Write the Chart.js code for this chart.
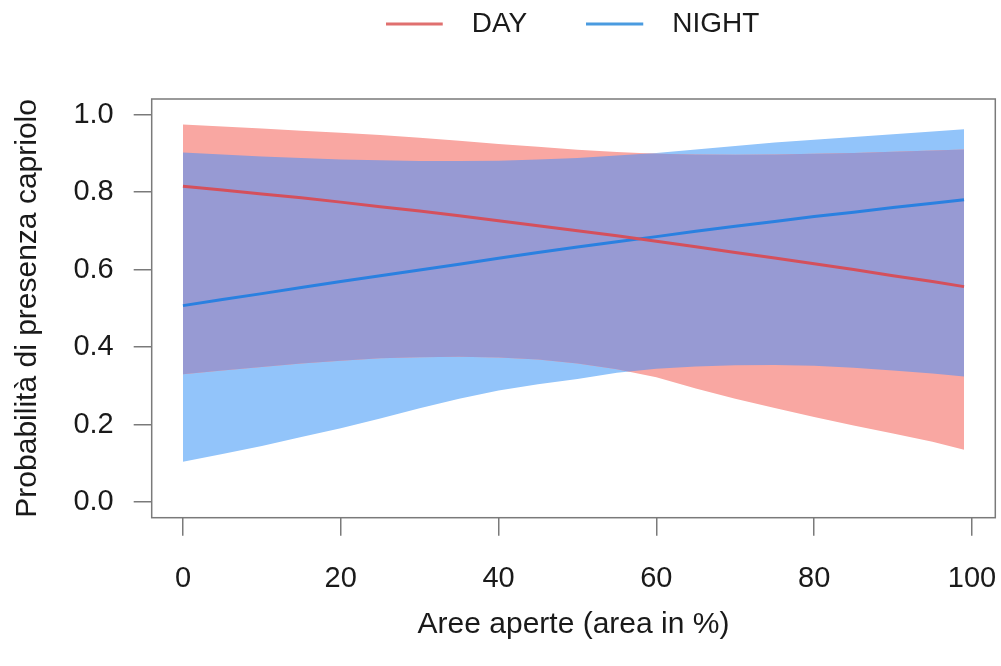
<!DOCTYPE html>
<html><head><meta charset="utf-8">
<script src="https://cdn.jsdelivr.net/npm/chart.js@4.4.1/dist/chart.umd.min.js"></script>
<style>html,body{margin:0;padding:0;background:#fff;}</style>
</head><body>
<canvas id="c" width="1001" height="666"></canvas>
<script>
// ---- data ----
const area = [0,5,10,15,20,25,30,35,40,45,50,55,60,65,70,75,80,85,90,95,99];
const dayFit    = [0.815,0.805,0.795,0.785,0.774,0.762,0.751,0.739,0.726,0.713,0.700,0.687,0.673,0.659,0.644,0.630,0.615,0.600,0.584,0.569,0.556];
const nightFit  = [0.507,0.523,0.538,0.554,0.569,0.584,0.599,0.614,0.629,0.644,0.658,0.672,0.685,0.699,0.712,0.724,0.737,0.748,0.760,0.771,0.780];
const dayUpper  = [0.974,0.969,0.964,0.958,0.953,0.947,0.940,0.932,0.924,0.917,0.909,0.903,0.899,0.897,0.896,0.897,0.899,0.901,0.904,0.907,0.910];
const dayLower  = [0.330,0.340,0.349,0.358,0.365,0.371,0.374,0.375,0.373,0.368,0.358,0.343,0.322,0.293,0.267,0.243,0.220,0.198,0.177,0.156,0.135];
const nightUpper= [0.902,0.897,0.892,0.888,0.884,0.882,0.880,0.880,0.881,0.884,0.888,0.894,0.901,0.910,0.919,0.928,0.935,0.942,0.949,0.956,0.962];
const nightLower= [0.104,0.124,0.145,0.168,0.191,0.216,0.242,0.267,0.288,0.304,0.318,0.334,0.344,0.350,0.353,0.354,0.352,0.347,0.340,0.332,0.324];
const seriesNames = ['DAY','NIGHT'];
const xTicks = [0,20,40,60,80,100];
const yTicks = [0,0.2,0.4,0.6,0.8,1.0];
const yTickLabels = ['0.0','0.2','0.4','0.6','0.8','1.0'];
const xTitle = 'Aree aperte (area in %)';
const yTitle = 'Probabilità di presenza capriolo';

// ---- styles ----
const FONT = "'Liberation Sans', Arial, Helvetica, sans-serif";
const TXT = '#1a1a1a';
const DAY_LINE = '#d4505c', NIGHT_LINE = '#2a80e0';
const DAY_BAND = '#f9a7a2', NIGHT_BAND = '#92c4fa', OVERLAP = '#979ad3';
const AXIS = '#7a7a7a';

const pts = ys => area.map((x,i)=>({x:x, y:ys[i]}));

function legendLine(color){
  const c = document.createElement('canvas');
  c.width = 72; c.height = 8;
  const g = c.getContext('2d');
  g.strokeStyle = color; g.lineWidth = 3;
  g.beginPath(); g.moveTo(0,4); g.lineTo(57,4); g.stroke();
  return c;
}

function bandPath(ctx, up, lo){
  ctx.beginPath();
  up.forEach((p,i)=> i ? ctx.lineTo(p.x,p.y) : ctx.moveTo(p.x,p.y));
  for (let i = lo.length-1; i >= 0; i--) ctx.lineTo(lo[i].x, lo[i].y);
  ctx.closePath();
}

const overlapPlugin = {
  id: 'overlap',
  beforeDatasetDraw(chart, args){
    if (args.index !== 1) return;
    const m = i => chart.getDatasetMeta(i).data;
    const ctx = chart.ctx, a = chart.chartArea;
    ctx.save();
    ctx.beginPath(); ctx.rect(a.left, a.top, a.right-a.left, a.bottom-a.top); ctx.clip();
    bandPath(ctx, m(2), m(3)); ctx.clip();
    bandPath(ctx, m(4), m(5));
    ctx.fillStyle = OVERLAP; ctx.fill();
    ctx.restore();
  }
};

const boxPlugin = {
  id: 'box',
  beforeInit(chart){
    const lg = chart.legend;
    if (lg) {
      const of = lg.fit.bind(lg);
      lg.fit = function(){ of(); this.height = 99; };
    }
  },
  afterLayout(chart){
    const lg = chart.legend;
    if (lg) { lg.left = 72; lg.right = 1001 + 72; lg.top = -49; }
  },
  afterDatasetsDraw(chart){
    const ctx = chart.ctx, a = chart.chartArea;
    ctx.save();
    ctx.strokeStyle = AXIS; ctx.lineWidth = 1.5;
    ctx.strokeRect(a.left, a.top, a.right-a.left, a.bottom-a.top);
    ctx.restore();
  }
};

new Chart(document.getElementById('c'), {
  type: 'line',
  data: {
    datasets: [
      { label: seriesNames[0], data: pts(dayFit), borderColor: DAY_LINE, borderWidth: 3, pointRadius: 0, pointHoverRadius: 0, pointStyle: legendLine('#e0706f'), fill: false, tension: 0 },
      { label: seriesNames[1], data: pts(nightFit), borderColor: NIGHT_LINE, borderWidth: 3, pointRadius: 0, pointHoverRadius: 0, pointStyle: legendLine('#4a9be0'), fill: false, tension: 0 },
      { label: 'dayUpper', data: pts(dayUpper), borderWidth: 0, pointRadius: 0, fill: false, tension: 0 },
      { label: 'dayLower', data: pts(dayLower), borderWidth: 0, pointRadius: 0, fill: '-1', backgroundColor: DAY_BAND, tension: 0 },
      { label: 'nightUpper', data: pts(nightUpper), borderWidth: 0, pointRadius: 0, fill: false, tension: 0 },
      { label: 'nightLower', data: pts(nightLower), borderWidth: 0, pointRadius: 0, fill: '-1', backgroundColor: NIGHT_BAND, tension: 0 }
    ]
  },
  options: {
    responsive: false,
    animation: false,
    devicePixelRatio: 1,
    layout: { padding: { left: 0, right: 5.7, top: 0, bottom: 0 } },
    plugins: {
      tooltip: { enabled: false },
      legend: {
        display: true, position: 'top', align: 'center',
        labels: {
          filter: item => item.datasetIndex < 2,
          usePointStyle: true, pointStyleWidth: 72, boxHeight: 8,
          padding: 59, color: TXT,
          font: { family: FONT, size: 28 }
        }
      }
    },
    scales: {
      x: {
        type: 'linear', min: -3.96, max: 102.96,
        afterBuildTicks: s => { s.ticks = xTicks.map(v => ({value: v})); },
        afterFit: s => { s.height = 148.3; s.paddingLeft = 0; s.paddingRight = 0; },
        ticks: { callback: (v, i) => String(xTicks[i]), color: TXT, font: { family: FONT, size: 29 }, padding: 26, maxRotation: 0, autoSkip: false },
        grid: { drawOnChartArea: false, drawTicks: true, tickLength: 18, color: AXIS, lineWidth: 1.5 },
        border: { display: false },
        title: { display: true, text: xTitle, color: TXT, font: { family: FONT, size: 30 }, padding: { top: 0, bottom: 23 } }
      },
      y: {
        type: 'linear', min: -0.04, max: 1.04,
        afterBuildTicks: s => { s.ticks = yTicks.map(v => ({value: v})); },
        afterFit: s => { s.width = 151.7; s.paddingTop = 0; s.paddingBottom = 0; },
        ticks: { callback: (v, i) => yTickLabels[i], color: TXT, font: { family: FONT, size: 29 }, padding: 20, autoSkip: false },
        grid: { drawOnChartArea: false, drawTicks: true, tickLength: 18, color: AXIS, lineWidth: 1.5 },
        border: { display: false },
        title: { display: true, text: yTitle, color: TXT, font: { family: FONT, size: 30 }, padding: { top: 10, bottom: 0 } }
      }
    }
  },
  plugins: [overlapPlugin, boxPlugin]
});
</script>
</body></html>
